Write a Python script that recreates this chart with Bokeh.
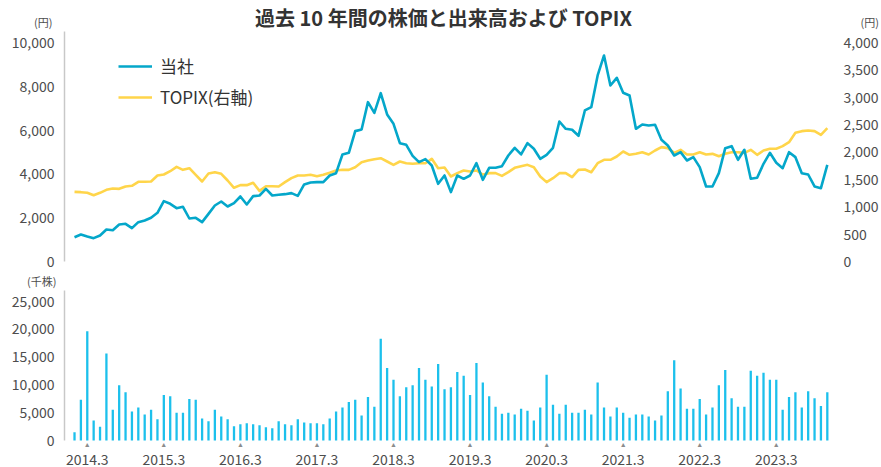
from bokeh.plotting import figure
from bokeh.models import (Range1d, LinearAxis, FixedTicker, NumeralTickFormatter, Label,
                          LabelSet, ColumnDataSource, Legend, LegendItem)
from bokeh.layouts import column
from bokeh.embed import file_html
from bokeh.resources import INLINE

# ---------------- data (monthly, 2014.1 - 2023.11) ----------------
stock = [1110, 1233, 1142, 1065, 1187, 1461, 1430, 1690, 1720, 1522, 1796, 1872, 1994, 2222, 2754,
         2633, 2435, 2496, 1963, 1994, 1796, 2176, 2557, 2740, 2511, 2663, 2968, 2603, 2983, 3013,
         3318, 3013, 3044, 3074, 3120, 2998, 3516, 3607, 3622, 3622, 3927, 4033, 4886, 4962, 5952,
         6027, 7275, 6788, 7686, 6712, 6287, 5403, 5327, 4825, 4535, 4672, 4383, 3546, 3927, 3166,
         3927, 3775, 3927, 4488, 3729, 4277, 4277, 4353, 4840, 5190, 4886, 5403, 5144, 4688, 4871,
         5190, 6392, 6058, 6013, 5738, 6895, 7047, 8493, 9406, 8036, 8386, 7701, 7580, 6058, 6256,
         6210, 6241, 5556, 5297, 4840, 4992, 4612, 4764, 4307, 3425, 3425, 4033, 5175, 5266, 4642,
         5099, 3775, 3821, 4459, 4962, 4505, 4261, 4992, 4764, 4033, 3972, 3425, 3348, 4414]

topix = [1272, 1266, 1254, 1211, 1254, 1309, 1333, 1327, 1370, 1382, 1455, 1455, 1461, 1570, 1589,
         1649, 1729, 1674, 1704, 1583, 1461, 1607, 1631, 1601, 1479, 1346, 1394, 1394, 1437, 1290,
         1375, 1375, 1370, 1449, 1522, 1570, 1570, 1583, 1558, 1583, 1619, 1662, 1674, 1674, 1722,
         1813, 1844, 1868, 1886, 1826, 1765, 1826, 1795, 1784, 1795, 1795, 1875, 1704, 1716, 1552,
         1613, 1662, 1643, 1662, 1589, 1613, 1613, 1564, 1631, 1710, 1741, 1765, 1722, 1552, 1449,
         1522, 1613, 1613, 1540, 1674, 1680, 1631, 1795, 1857, 1857, 1917, 2009, 1948, 1966, 1996,
         1954, 2027, 2088, 2070, 1984, 2039, 1954, 1954, 1996, 1954, 1966, 1923, 1966, 1996, 1996,
         1984, 2039, 1948, 2027, 2058, 2058, 2106, 2179, 2350, 2380, 2392, 2380, 2313, 2434]

volume = [1500, 7300, 19600, 3600, 2450, 15600, 5500, 9900, 8650, 5200, 5900, 4650, 5500, 3800, 8150,
          7950, 5000, 5000, 7450, 7300, 3950, 3450, 5500, 4300, 3800, 2550, 2900, 3100, 2900, 2750,
          2400, 2200, 3450, 2900, 2750, 3800, 3250, 3100, 3100, 2900, 3950, 5200, 5900, 6900, 7300,
          4500, 7800, 6050, 18250, 13000, 10900, 7950, 9550, 9900, 13000, 10900, 9700, 13700,
          9200, 9550, 12300, 11600, 8150, 13900, 10400, 7950, 6050, 4800, 5000, 4650, 5700, 5350,
          3600, 5900, 11800, 6400, 4800, 6400, 5000, 5000, 5500, 4650, 10400, 5900, 4300, 5900,
          5000, 4100, 4650, 4650, 4300, 3600, 4500, 8850, 14400, 9350, 5700, 5700, 7450, 4650,
          5900, 9900, 12650, 7600, 6050, 6050, 12500, 11600, 12150, 10900, 10900, 5500, 7800,
          8650, 5900, 8850, 7600, 6200, 8650]

year_tick_idx = [2, 14, 26, 38, 50, 62, 74, 86, 98, 110]
year_tick_labels = ["2014.3", "2015.3", "2016.3", "2017.3", "2018.3",
                    "2019.3", "2020.3", "2021.3", "2022.3", "2023.3"]
price_ticks = [0, 2000, 4000, 6000, 8000, 10000]
topix_ticks = [0, 500, 1000, 1500, 2000, 2500, 3000, 3500, 4000]
volume_ticks = [0, 5000, 10000, 15000, 20000, 25000]

title_text = "過去 10 年間の株価と出来高および TOPIX"
legend_labels = ["当社", "TOPIX(右軸)"]
unit_price = "(円)"
unit_volume = "(千株)"

# ---------------- style ----------------
FONT = "Noto Sans CJK JP"
BLUE = "#04a7ca"
YELLOW = "#ffd54a"
BAR = "#1cc0ec"
TXT = "#4d4d4d"
AXIS = "#c8c8c8"
W = 881
BL, BR = 64, 50

idx = list(range(len(stock)))
xr = Range1d(-1.57, 118.5)


def style_axis(ax, standoff, size="14px"):
    ax.major_tick_line_color = None
    ax.minor_tick_line_color = None
    ax.major_label_text_font = FONT
    ax.major_label_text_font_size = size
    ax.major_label_text_color = TXT
    ax.major_label_standoff = standoff


def strip(height):
    f = figure(width=W, height=height, output_backend="svg", toolbar_location=None,
               x_range=Range1d(0, 1), y_range=Range1d(0, height),
               x_axis_location=None, y_axis_location=None,
               min_border_left=BL, min_border_right=BR, min_border_top=0, min_border_bottom=0)
    f.outline_line_color = None
    f.xgrid.visible = False
    f.ygrid.visible = False
    return f


def unit_label(fig, side, text, at, standoff):
    ax = LinearAxis(ticker=FixedTicker(ticks=[at]), major_label_overrides={at: text})
    ax.axis_line_color = None
    style_axis(ax, standoff, "11px")
    fig.add_layout(ax, side)


# ---------------- header strip: title and price units ----------------
head = strip(31)
unit_label(head, "left", unit_price, 6, 6)
unit_label(head, "right", unit_price, 6, 24)
head.add_layout(Label(x=379, y=14.5, x_units="screen", y_units="screen", text=title_text,
                      text_font=FONT, text_font_size="20px", text_font_style="bold",
                      text_color="#333333", text_align="center", text_baseline="middle"))

# ---------------- top: price lines ----------------
top = figure(width=W, height=239, output_backend="svg", toolbar_location=None,
             x_range=xr, y_range=Range1d(0, 10500), x_axis_location=None,
             min_border_left=BL, min_border_right=BR, min_border_top=0, min_border_bottom=9)
top.extra_y_ranges = {"topix": Range1d(0, 4200)}
top.outline_line_color = None
top.xgrid.visible = False
top.ygrid.visible = False

ly = top.yaxis[0]
ly.ticker = FixedTicker(ticks=price_ticks)
ly.formatter = NumeralTickFormatter(format="0,0")
ly.axis_line_color = AXIS
ly.axis_line_width = 1.5
style_axis(ly, 4)

ry = LinearAxis(y_range_name="topix", ticker=FixedTicker(ticks=topix_ticks),
                formatter=NumeralTickFormatter(format="0,0"))
ry.axis_line_color = None
style_axis(ry, 7)
top.add_layout(ry, "right")

r_topix = top.line(idx, topix, y_range_name="topix", line_color=YELLOW, line_width=2.6,
                   line_join="round")
r_stock = top.line(idx, stock, line_color=BLUE, line_width=2.6, line_join="round")

legend = Legend(items=[LegendItem(label=legend_labels[0], renderers=[r_stock]),
                       LegendItem(label=legend_labels[1], renderers=[r_topix])],
                location=(54, 152), orientation="vertical")
legend.border_line_color = None
legend.background_fill_alpha = 0
legend.padding = 0
legend.margin = 0
legend.spacing = 6
legend.glyph_width = 34
legend.glyph_height = 20
legend.label_height = 20
legend.label_standoff = 8
legend.label_text_font = FONT
legend.label_text_font_size = "17px"
legend.label_text_color = "#333333"
top.add_layout(legend)

# ---------------- strip for volume unit ----------------
mid = strip(20)
unit_label(mid, "left", unit_volume, 6, 2)

# ---------------- bottom: volume bars ----------------
bot = figure(width=W, height=177, output_backend="svg", toolbar_location=None,
             x_range=xr, y_range=Range1d(-1250, 26900),
             min_border_left=BL, min_border_right=BR, min_border_top=0, min_border_bottom=19)
bot.outline_line_color = None
bot.xgrid.visible = False
bot.ygrid.visible = False

bot.vbar(x=idx, top=volume, width=0.36, fill_color=BAR, line_color=None)

by = bot.yaxis[0]
by.ticker = FixedTicker(ticks=volume_ticks)
by.formatter = NumeralTickFormatter(format="0,0")
by.axis_line_color = AXIS
by.axis_line_width = 1.5
by.bounds = (0, 26900)
style_axis(by, 4)

bx = bot.xaxis[0]
bx.ticker = FixedTicker(ticks=year_tick_idx)
bx.major_label_overrides = {i: s for i, s in zip(year_tick_idx, year_tick_labels)}
bx.axis_line_color = None
style_axis(bx, 0, "14px")

tri_src = ColumnDataSource(dict(x=year_tick_idx, t=["▲"] * len(year_tick_idx)))
bot.add_layout(LabelSet(x="x", y=3, y_units="screen", text="t", source=tri_src,
                        text_font=FONT, text_font_size="7px", text_color="#8c8c8c",
                        text_align="center", text_baseline="middle"))

layout = column(head, top, mid, bot, spacing=0)
open("out.html", "w").write(file_html(layout, INLINE, title="chart"))
